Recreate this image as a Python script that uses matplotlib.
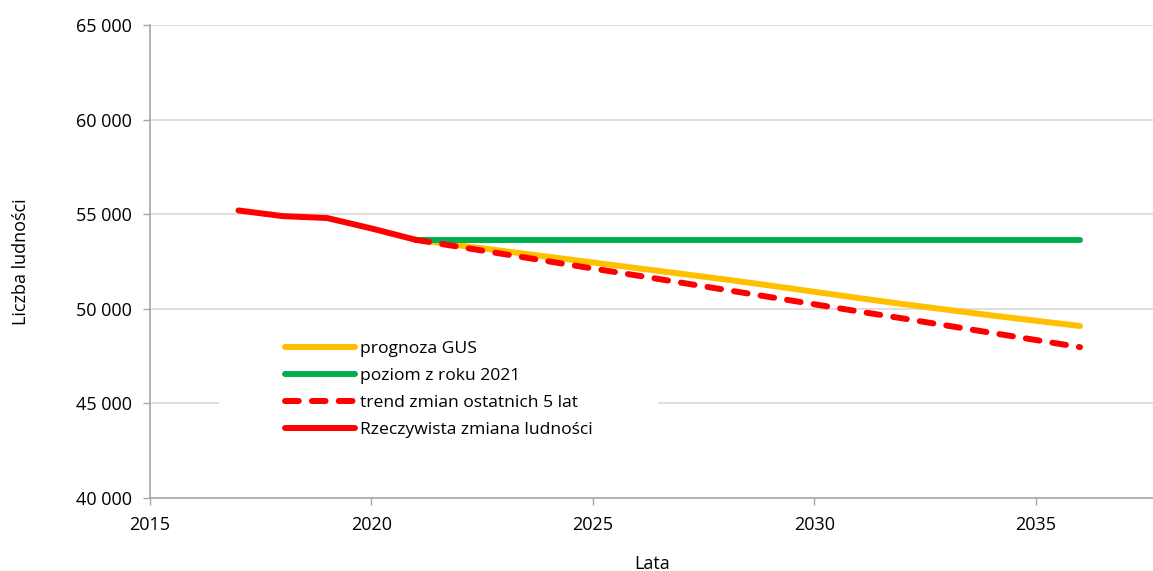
import matplotlib
matplotlib.use("Agg")
import matplotlib.pyplot as plt
from matplotlib.patches import Rectangle
from matplotlib.ticker import FuncFormatter

plt.rcParams['font.family'] = ['Open Sans', 'DejaVu Sans']

# dane
lata_rzecz = [2017, 2018, 2019, 2020, 2021]
rzeczywista = [55200, 54900, 54800, 54250, 53650]

lata_prog = list(range(2021, 2037))
prognoza_gus = [53650, 53350, 53050, 52750, 52450, 52150, 51850, 51550,
                51230, 50900, 50570, 50250, 49950, 49650, 49370, 49090]
poziom_2021 = [53650] * len(lata_prog)
trend_5_lat = [53650, 53270, 52890, 52510, 52130, 51760, 51380, 51000,
               50620, 50240, 49860, 49490, 49110, 48730, 48350, 47970]

x_ticks = [2015, 2020, 2025, 2030, 2035]
y_ticks = [40000, 45000, 50000, 55000, 60000, 65000]

fig = plt.figure(figsize=(11.53, 5.71), dpi=100)
ax = fig.add_axes([0.130, 0.128, 0.872, 0.828])

lw = 4.3
ax.plot(lata_prog, prognoza_gus, color='#FFC000', lw=lw,
        solid_capstyle='round', label='prognoza GUS', zorder=3)
ax.plot(lata_prog, poziom_2021, color='#00B050', lw=lw,
        solid_capstyle='round', label='poziom z roku 2021', zorder=3)
ax.plot(lata_prog, trend_5_lat, color='#FF0000', lw=lw, ls=(0, (2.3, 2.2)),
        dash_capstyle='round', label='trend zmian ostatnich 5 lat', zorder=4)
ax.plot(lata_rzecz, rzeczywista, color='#FF0000', lw=lw,
        solid_capstyle='round', solid_joinstyle='round',
        label='Rzeczywista zmiana ludności', zorder=5)

ax.set_xlim(2015, 2037.7)
ax.set_ylim(40000, 65000)
ax.set_xticks(x_ticks)
ax.set_yticks(y_ticks)
ax.yaxis.set_major_formatter(FuncFormatter(lambda v, p: f"{int(v):,}".replace(",", " ")))

ax.grid(axis='y', color='#d9d9d9', lw=1.2, zorder=0)
ax.set_axisbelow(True)
for s in ['top', 'right']:
    ax.spines[s].set_visible(False)
for s in ['left', 'bottom']:
    ax.spines[s].set_color('#a6a6a6')
    ax.spines[s].set_linewidth(1.2)
ax.tick_params(colors='#a6a6a6', labelcolor='black', labelsize=13,
               length=5, width=1, pad=8)

ax.set_xlabel('Lata', fontsize=13, labelpad=15)
ax.set_ylabel('Liczba ludności', fontsize=13, labelpad=33)

leg = ax.legend(loc='upper left', bbox_to_anchor=(0.122, 0.358), frameon=False,
                fontsize=12.6, handlelength=4.0, handletextpad=0.3,
                labelspacing=0.62, borderpad=0.2)

# białe tło legendy (przerywa linię siatki jak w oryginale)
fig.canvas.draw()
bb = leg.get_window_extent().transformed(fig.transFigure.inverted())
pad_x = 62 / fig.bbox.width
ax.add_patch(Rectangle((bb.x0 - pad_x, bb.y0), bb.width + 2 * pad_x, bb.height,
                       transform=fig.transFigure, facecolor='white',
                       edgecolor='none', zorder=1))

fig.savefig('out.png', dpi=100)
